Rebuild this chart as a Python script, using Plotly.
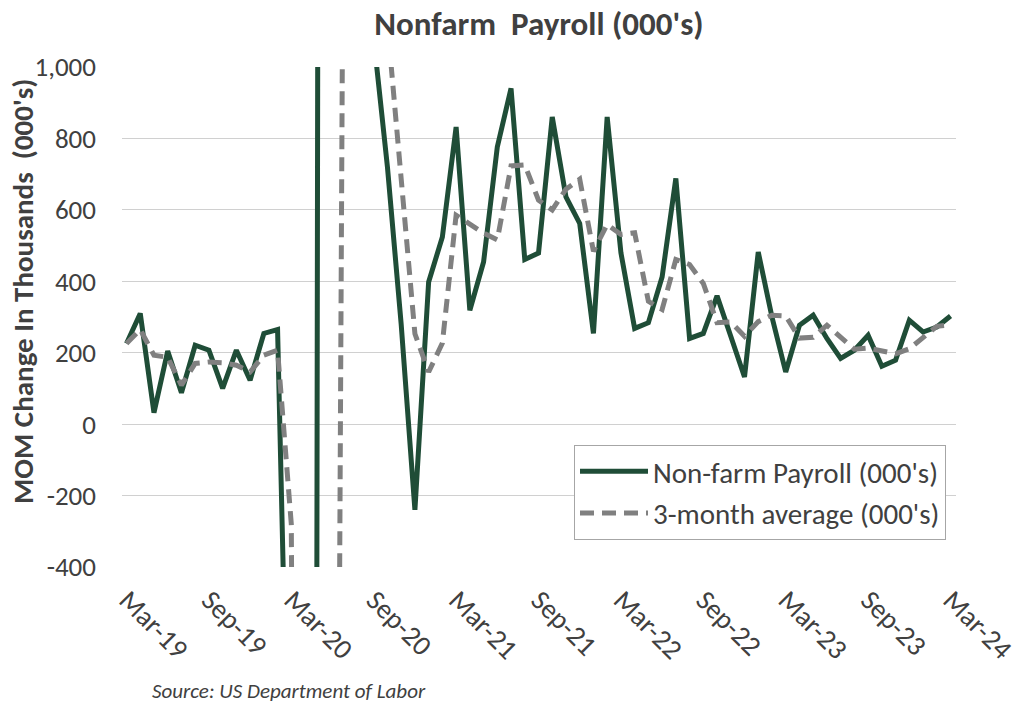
import plotly.graph_objects as go
import pandas as pd

# ---- data ----
months = [d.strftime("%b-%y") for d in pd.date_range("2019-03-01", "2024-03-01", freq="MS")]

nonfarm_payroll = [
    226, 310, 32, 205, 88, 221, 207, 100, 207, 123,          # Mar-19 .. Dec-19
    254, 265, -1373, -20477, 2833, 4846, 1726, 1563, 1080, 720, 280, -240,  # 2020
    398, 524, 832, 319, 454, 776, 940, 461, 479, 860, 636, 562,            # 2021
    254, 860, 480, 268, 284, 412, 688, 240, 254, 359, 246, 132,            # 2022
    482, 300, 146, 277, 305, 240, 184, 207, 249, 162, 179, 291,            # 2023
    258, 272, 303,                                                          # 2024
]

three_month_avg = [
    226, 265, 193, 187, 109, 170, 174, 172, 165, 146,         # Mar-19 .. Dec-19
    193, 207, -280, -7005, -6339, -4266, 3135, 2712, 1456, 1121, 693, 253,  # 2020
    146, 227, 585, 558, 535, 516, 723, 726, 627, 600, 658, 686,            # 2021
    484, 559, 531, 536, 344, 321, 461, 447, 394, 284, 286, 246,            # 2022
    287, 305, 303, 241, 243, 277, 243, 210, 213, 206, 197, 211,            # 2023
    243, 274, 278,                                                          # 2024
]

tick_labels = ["Mar-19", "Sep-19", "Mar-20", "Sep-20", "Mar-21", "Sep-21",
               "Mar-22", "Sep-22", "Mar-23", "Sep-23", "Mar-24"]

y_ticks = [-400, -200, 0, 200, 400, 600, 800, 1000]
y_tick_text = ["-400", "-200", "0", "200", "400", "600", "800", "1,000"]

# ---- styling ----
FONT = "Calibri, Carlito, Lato, sans-serif"
TXT = "#404040"
GREEN = "#1F4D37"
GRAY = "#808080"

fig = go.Figure()
fig.add_trace(go.Scatter(
    x=months, y=nonfarm_payroll, mode="lines",
    name="Non-farm Payroll (000's)",
    line=dict(color=GREEN, width=5),
    legendgroup="a",
))
fig.add_trace(go.Scatter(
    x=months, y=three_month_avg, mode="lines",
    name="3-month average (000's)",
    line=dict(color=GRAY, width=5, dash="14px,8px"),
    legendgroup="b",
))

fig.update_layout(
    width=1023, height=707,
    margin=dict(l=122, r=67, t=67, b=140, autoexpand=False),
    paper_bgcolor="white", plot_bgcolor="white",
    font=dict(family=FONT, color=TXT),
    title=dict(
        text="<b>Nonfarm  Payroll (000's)</b>",
        x=0.5, xref="paper", xanchor="center",
        y=1 - 23 / 707, yref="container", yanchor="middle",
        font=dict(family=FONT, size=33, color=TXT),
    ),
    showlegend=True,
    legend=dict(
        x=(574 - 122) / 834, y=(567 - 445) / 500, xanchor="left", yanchor="top",
        xref="paper", yref="paper",
        bgcolor="white", bordercolor="#A6A6A6", borderwidth=1,
        font=dict(family=FONT, size=29, color=TXT),
        itemwidth=68, tracegroupgap=1,
        entrywidth=306, entrywidthmode="pixels",
    ),
    annotations=[
        dict(
            text="<b>MOM Change In Thousands  (000's)</b>",
            textangle=-90, showarrow=False,
            x=(23 - 122) / 834, y=(567 - 292) / 500,
            xref="paper", yref="paper", xanchor="center", yanchor="middle",
            font=dict(family=FONT, size=29, color=TXT),
        ),
        dict(
            text="<i>Source: US Department of Labor</i>",
            showarrow=False,
            x=(150 - 122) / 834, y=(567 - 691) / 500,
            xref="paper", yref="paper", xanchor="left", yanchor="middle",
            font=dict(family=FONT, size=21, color=TXT),
        ),
    ],
)

fig.update_xaxes(
    type="category",
    range=[-0.328, 60.40],
    tickmode="array", tickvals=tick_labels, ticktext=tick_labels,
    tickangle=45,
    tickfont=dict(family=FONT, size=28, color=TXT),
    showgrid=False, zeroline=False, showline=False,
    ticks="", ticklabelstandoff=10, ticklabelshift=1,
    automargin=False,
)
fig.update_yaxes(
    range=[-400, 1000],
    tickmode="array", tickvals=y_ticks, ticktext=y_tick_text,
    tickfont=dict(family=FONT, size=27, color=TXT),
    showgrid=True, gridcolor="#D0D0D0", gridwidth=1,
    zeroline=False, showline=False,
    ticks="", ticklabelstandoff=25,
    automargin=False,
)

fig.write_html("out.html", config={"displayModeBar": False},
               post_script="document.body.style.margin='0px';")
